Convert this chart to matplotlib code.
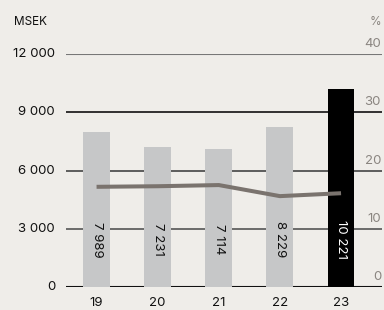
import matplotlib.pyplot as plt

# Data
years = ['19', '20', '21', '22', '23']
sales = [7989, 7231, 7114, 8229, 10221]
sales_labels = ['7 989', '7 231', '7 114', '8 229', '10 221']
margin = [17.2, 17.3, 17.5, 15.6, 16.1]

left_ticks = [0, 3000, 6000, 9000, 12000]
left_labels = ['0', '3 000', '6 000', '9 000', '12 000']
right_labels = ['0', '10', '20', '30', '40']

bg = '#efede9'
plt.rcParams['font.family'] = ['Inter', 'DejaVu Sans']

fig = plt.figure(figsize=(3.84, 3.10), dpi=100, facecolor=bg)
ax = fig.add_axes([66 / 384, 23 / 310, 316 / 384, 233 / 310], facecolor=bg)

x = list(range(len(years)))

# Gridlines behind the bars
grid_colors = ['#111111', '#555555', '#444444', '#111111', '#777777']
for val, col in zip(left_ticks, grid_colors):
    ax.axhline(val, color=col, lw=1.5 if val in (0, 12000) else 1.2, zorder=0)

bar_colors = ['#c6c7c8'] * 4 + ['#000000']
ax.bar(x, sales, width=0.44, color=bar_colors, zorder=2)

# Rotated value labels
for xi, lab, col in zip(x, sales_labels, bar_colors):
    tc = 'white' if col == '#000000' else '#111111'
    ax.text(xi, 2450, lab, rotation=-90, ha='center', va='center',
            fontsize=9.5, color=tc, zorder=3)

# Margin line on a 0-40 % scale mapped onto the MSEK axis
ax.plot(x, [m * 300 for m in margin], color='#7a736e', lw=2.9,
        solid_capstyle='butt', zorder=4)

ax.set_xlim(-0.5, 4.67)
ax.set_ylim(0, 12000)
for s in ax.spines.values():
    s.set_visible(False)
ax.set_yticks([])
ax.set_xticks([])

# Left tick labels
for val, lab in zip(left_ticks, left_labels):
    fig.text(55 / 384, ax.transData.transform((0, val))[1] / 310, lab,
             ha='right', va='center', fontsize=9.5, color='#111111')
fig.text(14 / 384, 1 - 22 / 310, 'MSEK', ha='left', va='center',
         fontsize=8.5, color='#111111')

# Right tick labels, sitting above the gridlines
for val, lab in zip(left_ticks, right_labels):
    ypix = ax.transData.transform((0, val))[1]
    fig.text(381 / 384, (ypix + 10) / 310, lab, ha='right', va='center',
             fontsize=9.5, color='#8a8580')
fig.text(381 / 384, 1 - 22 / 310, '%', ha='right', va='center',
         fontsize=8.5, color='#8a8580')

# Year labels along the bottom
for xi, yr in zip(x, years):
    px = ax.transData.transform((xi, 0))[0]
    fig.text(px / 384, 1 / 310, yr, ha='center', va='bottom',
             fontsize=9.5, color='#111111')

fig.savefig('out.png', dpi=100, facecolor=bg)
